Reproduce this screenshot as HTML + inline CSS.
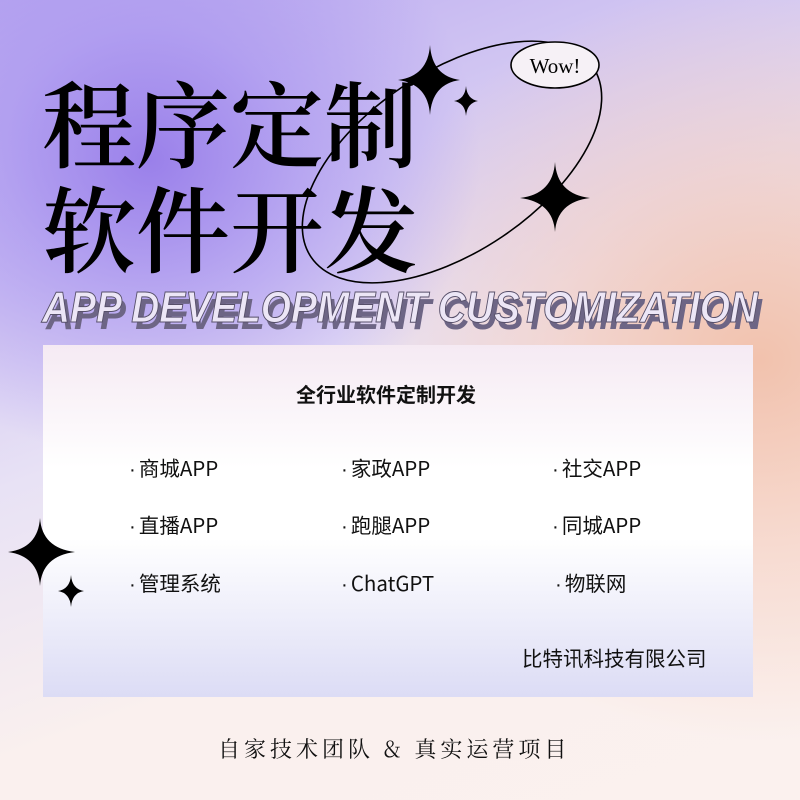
<!DOCTYPE html>
<html><head><meta charset="utf-8"><style>
html,body{margin:0;padding:0}
body{width:800px;height:800px;position:relative;overflow:hidden;font-family:"Liberation Sans","Noto Sans CJK SC",sans-serif;
background:
radial-gradient(ellipse 330px 300px at 150px 160px,#9a80ea 0%,rgba(170,150,240,.7) 45%,rgba(200,190,245,0) 100%),
radial-gradient(ellipse 420px 380px at 760px 360px,#f2c2ad 0%,rgba(245,205,190,.6) 50%,rgba(250,235,230,0) 100%),
linear-gradient(160deg,#b9a8f0 0%,#e8e2f5 45%,#faf0ee 70%,#fbf1ee 100%);}
.card{position:absolute;left:43px;top:345px;width:710px;height:352px;background:linear-gradient(180deg,#f5eaf3 0%,#fff 35%,#fff 55%,#dcdcf5 100%)}
.t{position:absolute;font-size:20.5px;color:#111;white-space:nowrap;font-family:"Noto Sans CJK SC",sans-serif}
.t b{font-family:"Liberation Sans",sans-serif;font-weight:normal;margin-right:3px}
</style></head><body>
<svg width="800" height="800" style="position:absolute;left:0;top:0">
<text x="42" y="160" font-family="Noto Serif CJK SC,serif" font-weight="600" font-size="94" textLength="376" fill="#000">程序定制</text>
<text x="42" y="265" font-family="Noto Serif CJK SC,serif" font-weight="600" font-size="94" textLength="376" fill="#000">软件开发</text>
<ellipse cx="452" cy="162" rx="170" ry="90" transform="rotate(-34 452 162)" fill="none" stroke="#000" stroke-width="1.6"/>
<ellipse cx="555" cy="65" rx="44" ry="23" fill="#f6f1f6" stroke="#000" stroke-width="1.6"/>
<text x="555" y="73" text-anchor="middle" font-family="Liberation Serif,serif" font-size="21" fill="#000">Wow!</text>
<g fill="#000">
<path d="M430 45 Q432 76 460 80 Q432 84 430 115 Q428 84 398 80 Q428 76 430 45Z"/>
<path d="M466 86 Q467 99 478 101 Q467 103 466 116 Q465 103 454 101 Q465 99 466 86Z"/>
<path d="M555 162 Q557 194 590 198 Q557 202 555 232 Q553 202 520 198 Q553 194 555 162Z"/>
</g>
<g font-family="Liberation Sans,sans-serif" font-weight="bold" font-style="italic" font-size="44">
<text x="46" y="329" textLength="716" lengthAdjust="spacingAndGlyphs" fill="#6d6585">APP DEVELOPMENT CUSTOMIZATION</text>
<text x="42" y="322" textLength="716" lengthAdjust="spacingAndGlyphs" fill="#ece6f6" stroke="#57506a" stroke-width="1">APP DEVELOPMENT CUSTOMIZATION</text>
</g>
</svg>
<div class="card"></div>
<svg width="800" height="800" style="position:absolute;left:0;top:0">
<g fill="#000">
<path d="M40 518 Q42 548 75 552 Q42 556 40 586 Q38 556 8 552 Q38 548 40 518Z"/>
<path d="M71 575 Q72 589 84 591 Q72 593 71 607 Q70 593 58 591 Q70 589 71 575Z"/>
</g>
</svg>
<div class="t" style="left:296px;top:379px;font-weight:bold;font-size:20px">全行业软件定制开发</div>
<div class="t" style="left:129px;top:452px"><b>·</b>商城APP</div>
<div class="t" style="left:341px;top:452px"><b>·</b>家政APP</div>
<div class="t" style="left:552px;top:452px"><b>·</b>社交APP</div>
<div class="t" style="left:129px;top:509px"><b>·</b>直播APP</div>
<div class="t" style="left:341px;top:509px"><b>·</b>跑腿APP</div>
<div class="t" style="left:552px;top:509px"><b>·</b>同城APP</div>
<div class="t" style="left:129px;top:567px"><b>·</b>管理系统</div>
<div class="t" style="left:341px;top:567px"><b>·</b>ChatGPT</div>
<div class="t" style="left:555px;top:567px"><b>·</b>物联网</div>
<div class="t" style="left:522px;top:642px">比特讯科技有限公司</div>
<div class="t" style="left:218px;top:733px;font-size:22px;letter-spacing:4px;font-family:'Noto Serif CJK SC',serif">自家技术团队&nbsp;&amp;&nbsp;真实运营项目</div>
</body></html>
